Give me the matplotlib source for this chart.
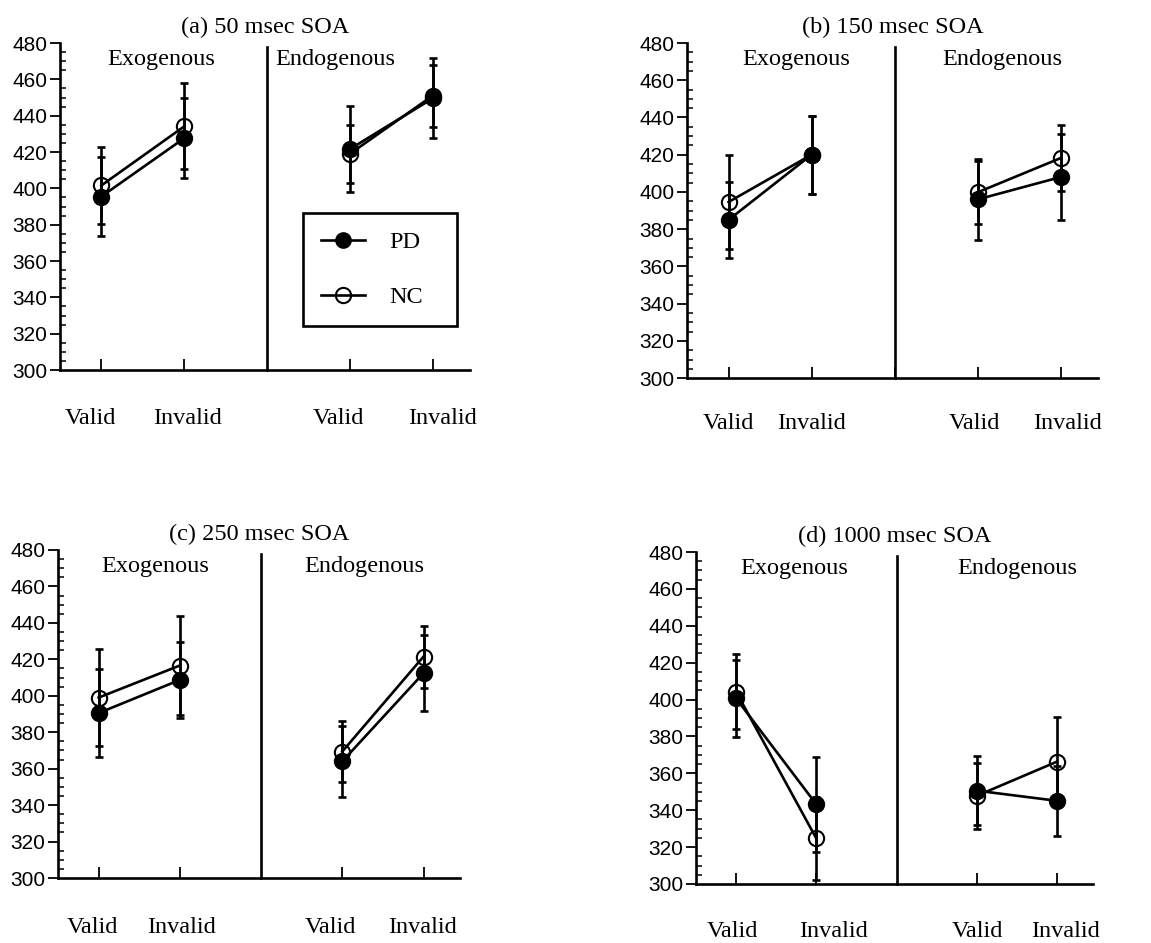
import matplotlib
matplotlib.use("Agg")
import matplotlib.pyplot as plt
from matplotlib.lines import Line2D
from matplotlib.ticker import MultipleLocator

# ── data (mean RT, msec, and error bar half-widths) ───────────────────────────
# order per panel: [exo valid, exo invalid, endo valid, endo invalid]
titles = ["(a) 50 msec SOA", "(b) 150 msec SOA",
          "(c) 250 msec SOA", "(d) 1000 msec SOA"]
cond_labels = ["Valid", "Invalid", "Valid", "Invalid"]

pd_mean = [[395.5, 427.6, 421.6, 449.5],
           [385.0, 420.0, 396.0, 408.0],
           [390.5, 408.7, 364.0, 412.4],
           [400.6, 343.2, 350.6, 345.1]]
pd_err = [[22.0, 22.0, 23.6, 22.0],
          [20.5, 21.0, 21.8, 23.0],
          [24.0, 21.0, 19.5, 21.0],
          [21.0, 25.7, 18.7, 18.9]]

nc_mean = [[401.6, 434.1, 419.0, 451.0],
           [394.6, 420.0, 399.8, 418.2],
           [399.0, 416.6, 369.4, 421.5],
           [404.2, 324.7, 347.8, 366.3]]
nc_err = [[21.0, 23.7, 16.0, 17.0],
          [25.5, 21.0, 17.0, 17.7],
          [26.5, 27.2, 16.6, 17.0],
          [20.3, 22.5, 17.9, 24.0]]

xpos = [1, 2, 4, 5]

boxes = [
    [0.0521, 0.6076, 0.3562, 0.3468],
    [0.5969, 0.5990, 0.3571, 0.3554],
    [0.0504, 0.0689, 0.3493, 0.3479],
    [0.6047, 0.0626, 0.3449, 0.3520],
]
exo_x = [1.72, 1.82, 1.70, 1.73]
endo_x = [3.82, 4.30, 4.27, 4.50]
# condition label placement (the labels were typeset, not quite centred)
lab_dx = [[-11, 3, -11, 10], [0, 0, -3, 7], [-6, 2, -12, -1], [-4, 17, 1, 9]]
lab_dy = [48, 45, 49, 48]

SERIF = "Liberation Serif"
SANS = "Liberation Sans"
FS = 17.5
LW = 1.9

fig = plt.figure(figsize=(11.51, 9.43), dpi=100)

for i in range(4):
    ax = fig.add_axes(boxes[i])
    for mean, err, filled in [(nc_mean[i], nc_err[i], False),
                              (pd_mean[i], pd_err[i], True)]:
        ax.errorbar(xpos, mean, yerr=err, fmt="none", ecolor="black",
                    elinewidth=LW, capsize=3, capthick=LW, zorder=2)
        for seg in (slice(0, 2), slice(2, 4)):
            ax.plot(xpos[seg], mean[seg], color="black", lw=LW,
                    marker="o", markersize=11,
                    markerfacecolor="black" if filled else "none",
                    markeredgecolor="black", markeredgewidth=1.5,
                    zorder=3 if filled else 2.5)

    ax.plot([3, 3], [300, 478], color="black", lw=LW, clip_on=False)

    ax.set_xlim(0.5, 5.45)
    ax.set_ylim(300, 480)
    ax.spines["top"].set_visible(False)
    ax.spines["right"].set_visible(False)
    for s in ("left", "bottom"):
        ax.spines[s].set_linewidth(LW)

    ax.yaxis.set_major_locator(MultipleLocator(20))
    ax.yaxis.set_minor_locator(MultipleLocator(5))
    ax.tick_params(axis="y", which="major", direction="out", length=7,
                   width=1.3, pad=2, labelsize=15)
    ax.tick_params(axis="y", which="minor", direction="in", length=4,
                   width=1.1)
    for lab in ax.get_yticklabels():
        lab.set_fontfamily(SANS)

    ax.set_xticks([1, 2, 3, 4, 5] if i == 1 else xpos)
    ax.tick_params(axis="x", direction="in", length=8, width=1.3,
                   labelbottom=False)
    for x, lab, dx in zip(xpos, cond_labels, lab_dx[i]):
        ax.annotate(lab, xy=(x, 0), xycoords=ax.get_xaxis_transform(),
                    xytext=(dx, -lab_dy[i]), textcoords="offset pixels",
                    ha="center", va="center", fontsize=FS, family=SERIF,
                    annotation_clip=False)

    ax.text(exo_x[i], 471, "Exogenous", ha="center", va="center",
            fontsize=FS, family=SERIF)
    ax.text(endo_x[i], 471, "Endogenous", ha="center", va="center",
            fontsize=FS, family=SERIF)
    ax.set_title(titles[i], fontsize=FS, family=SERIF, pad=7)

    if i == 0:
        handles = [
            Line2D([], [], color="black", lw=LW, marker="o", markersize=11,
                   markerfacecolor="black", markeredgecolor="black"),
            Line2D([], [], color="black", lw=LW, marker="o", markersize=11,
                   markerfacecolor="none", markeredgecolor="black",
                   markeredgewidth=1.5),
        ]
        leg = ax.legend(handles, ["PD", "NC"], loc="upper left",
                        bbox_to_anchor=(0.593, 0.119, 0.375, 0.361),
                        mode="expand", fancybox=False,
                        edgecolor="black", framealpha=1,
                        prop={"family": SERIF, "size": FS},
                        labelspacing=1.35, handlelength=1.8,
                        handletextpad=1.0, borderpad=0.75, borderaxespad=0)
        leg.get_frame().set_linewidth(LW)

fig.savefig("out.png", dpi=100, facecolor="white")
